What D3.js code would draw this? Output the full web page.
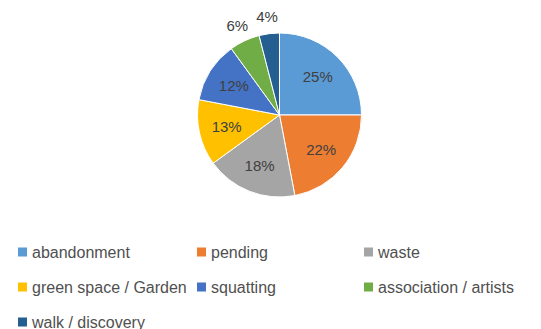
<!DOCTYPE html>
<html>
<head>
<meta charset="utf-8">
<script src="https://cdn.jsdelivr.net/npm/d3@7"></script>
<style>
  html, body { margin: 0; padding: 0; background: #fff; }
  svg { display: block; }
</style>
</head>
<body>
<svg id="chart" width="541" height="329"></svg>
<script>
// Land-use categories and their shares (percent)
const categories = ["abandonment", "pending", "waste", "green space / Garden", "squatting", "association / artists", "walk / discovery"];
const shares = [25, 22, 18, 13, 12, 6, 4];
const colors = ["#5B9BD5", "#ED7D31", "#A5A5A5", "#FFC000", "#4472C4", "#70AD47", "#255E91"];

const svg = d3.select("#chart");
const cx = 279.5, cy = 115, r = 82;

const data = categories.map((c, i) => ({ name: c, value: shares[i], color: colors[i] }));

const pie = d3.pie().value(d => d.value).sort(null);
const arcs = pie(data);
const arc = d3.arc().innerRadius(0).outerRadius(r);
const inLabel = d3.arc().innerRadius(r * 0.66).outerRadius(r * 0.66);
const outLabel = d3.arc().innerRadius(r * 1.21).outerRadius(r * 1.21);

const g = svg.append("g").attr("transform", `translate(${cx},${cy})`);

g.selectAll("path.slice")
  .data(arcs)
  .join("path")
  .attr("class", "slice")
  .attr("d", arc)
  .attr("fill", d => d.data.color)
  .attr("stroke", "#fff")
  .attr("stroke-width", 1);

// Percent labels: inside for larger slices, outside for the small ones
g.selectAll("text.pct")
  .data(arcs)
  .join("text")
  .attr("class", "pct")
  .attr("transform", d => {
    const p = (d.data.value >= 10 ? inLabel : outLabel).centroid(d);
    return `translate(${p[0]},${p[1]})`;
  })
  .attr("text-anchor", "middle")
  .attr("dy", "0.36em")
  .attr("font-family", "'Liberation Sans', Arial, sans-serif")
  .attr("font-size", 15)
  .attr("fill", "#404040")
  .text(d => d.data.value + "%");

// Legend: three columns
const colX = [18, 197, 364];
const rowY = [252, 287, 322];
const legend = svg.append("g");
const items = legend.selectAll("g.item")
  .data(data)
  .join("g")
  .attr("class", "item")
  .attr("transform", (d, i) => `translate(${colX[i % 3]},${rowY[Math.floor(i / 3)]})`);

items.append("rect")
  .attr("x", 0).attr("y", -4.5)
  .attr("width", 9).attr("height", 9)
  .attr("fill", d => d.color);

items.append("text")
  .attr("x", 14)
  .attr("y", 5.5)
  .attr("font-family", "'Liberation Sans', Arial, sans-serif")
  .attr("font-size", 16)
  .attr("fill", "#505050")
  .text(d => d.name);
</script>
</body>
</html>
